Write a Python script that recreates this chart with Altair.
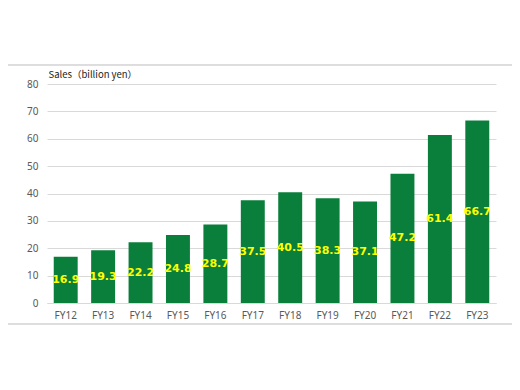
import altair as alt
import pandas as pd

years = ["FY12", "FY13", "FY14", "FY15", "FY16", "FY17", "FY18", "FY19", "FY20", "FY21", "FY22", "FY23"]
sales = [16.9, 19.3, 22.2, 24.8, 28.7, 37.5, 40.5, 38.3, 37.1, 47.2, 61.4, 66.7]
y_ticks = [0, 10, 20, 30, 40, 50, 60, 70, 80]

df = pd.DataFrame({"year": years, "sales": sales})
df["mid"] = df["sales"] / 2
df["label"] = df["sales"].map(lambda v: f"{v:.1f}")

W, H = 449, 219

x_axis = alt.Axis(labelAngle=0, labelColor="#595959", labelFontSize=10,
                  labelFont="Noto Sans", labelPadding=7, ticks=False,
                  domainColor="#d9d9d9", domainWidth=1)
x_scale = alt.Scale(paddingInner=0.36, paddingOuter=0.18)

y_axis = alt.Axis(values=y_ticks, tickCount=9, labelOverlap=False,
                  labelColor="#595959", labelFontSize=10, labelFont="Noto Sans",
                  labelPadding=9, ticks=False, domain=False,
                  gridColor="#d9d9d9", gridWidth=1,
                  titleAngle=0, titleAlign="left", titleBaseline="bottom",
                  titleX=1, titleY=-5, titleFont="Noto Sans CJK JP",
                  titleFontSize=9.5, titleFontWeight="normal", titleColor="#222222")
y_scale = alt.Scale(domain=[0, 80], nice=False)
title = "Sales（billion yen）"

bars = alt.Chart(df).mark_bar(color="#0a7f3b").encode(
    x=alt.X("year:N", sort=years, title=None, scale=x_scale, axis=x_axis),
    y=alt.Y("sales:Q", title=title, scale=y_scale, axis=y_axis),
)

labels = alt.Chart(df).mark_text(color="#ffff00", font="DejaVu Sans", fontWeight="bold",
                                 fontSize=11, baseline="middle").encode(
    x=alt.X("year:N", sort=years, title=None, scale=x_scale, axis=x_axis),
    y=alt.Y("mid:Q", title=title, scale=y_scale, axis=y_axis),
    text="label:N",
)

top_line = alt.Chart(df).mark_rule(color="#dddddd", strokeWidth=1).encode(
    x=alt.value(-47), x2=alt.value(W + 30), y=alt.value(-19)
)
bottom_line = alt.Chart(df).mark_rule(color="#dddddd", strokeWidth=1).encode(
    x=alt.value(-47), x2=alt.value(W + 30), y=alt.value(H + 21)
)

chart = alt.layer(bars, labels, top_line, bottom_line).properties(
    width=W, height=H,
    autosize=alt.AutoSizeParams(type="none"),
    padding={"left": 39, "top": 76, "right": 16, "bottom": 70},
    background="white",
).configure_view(stroke=None)

chart.save("out.html", embed_options={"renderer": "svg", "actions": False})
